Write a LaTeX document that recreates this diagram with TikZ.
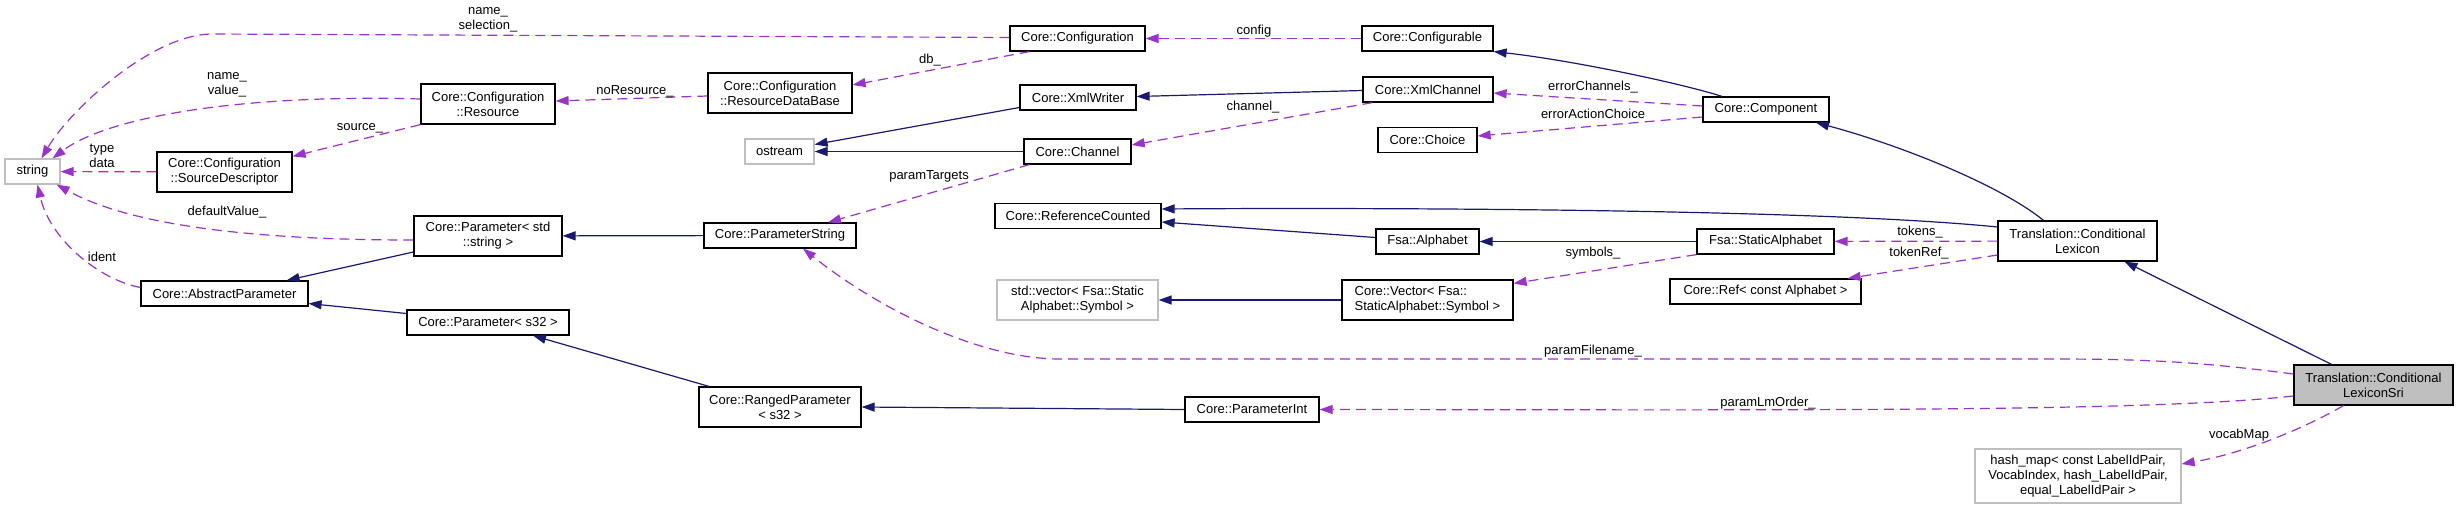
\documentclass[tikz,border=0pt]{standalone}
\usepackage{fontspec}
\setmainfont{Liberation Sans}
\definecolor{inheritBlue}{RGB}{25,25,112}
\definecolor{usageOrchid}{RGB}{154,50,205}
\definecolor{extGray}{RGB}{191,191,191}
\usetikzlibrary{arrows.meta,calc}

\begin{document}
\begin{tikzpicture}[x=1pt,y=-1pt,
    font=\fontsize{13}{15}\selectfont,
    cls/.style={draw=black,line width=1.2pt,inner sep=0pt,align=center,minimum height=25pt},
    ext/.style={cls,draw=extGray},
    two/.style={minimum height=40pt},
    inherit/.style={draw=inheritBlue,line width=1.2pt,-{Triangle[length=13pt,width=9pt]}},
    uses/.style={draw=usageOrchid,line width=1.2pt,dash pattern=on 10pt off 6pt,-{Triangle[length=13pt,width=9pt]}},
    lbl/.style={inner sep=0pt,align=center}]
        \useasboundingbox (0,0) rectangle (2459,509);
        % Column 1: string and configuration parts
        \node[ext,minimum width=55pt] (string) at (32.5,171.5) {string};
        \node[cls,two,minimum width=135pt] (srcDesc) at (224.5,172) {Core::Configuration\\::SourceDescriptor};
        \node[cls,minimum width=167pt] (abstractParam) at (224.5,293.5) {Core::AbstractParameter};
        % Column 2
        \node[cls,two,minimum width=134pt] (resource) at (488,104) {Core::Configuration\\::Resource};
        \node[cls,two,minimum width=148pt] (paramStd) at (488,236) {Core::Parameter< std\\::string >};
        \node[cls,minimum width=162pt] (paramS32) at (488,322.5) {Core::Parameter< s32 >};
        % Column 3
        \node[cls,two,minimum width=144pt] (resourceDB) at (780,93) {Core::Configuration\\::ResourceDataBase};
        \node[ext,minimum width=69pt] (ostream) at (779.5,151.5) {ostream};
        \node[cls,minimum width=152pt] (paramString) at (780,235.5) {Core::ParameterString};
        \node[cls,two,minimum width=162pt] (rangedParam) at (780,407) {Core::RangedParameter\\< s32 >};
        % Column 4
        \node[cls,minimum width=135pt] (configuration) at (1077.5,38.5) {Core::Configuration};
        \node[cls,minimum width=116pt] (xmlWriter) at (1078,97.5) {Core::XmlWriter};
        \node[cls,minimum width=107pt] (channel) at (1077.5,151.5) {Core::Channel};
        \node[cls,minimum width=166pt] (refCounted) at (1078,216) {Core::ReferenceCounted};
        \node[ext,two,minimum width=161pt] (stdVector) at (1077.5,300) {std::vector< Fsa::Static\\Alphabet::Symbol >};
        \node[cls,minimum width=134pt] (paramInt) at (1252,409.5) {Core::ParameterInt};
        % Column 5
        \node[cls,minimum width=131pt] (configurable) at (1427.5,38.5) {Core::Configurable};
        \node[cls,minimum width=130pt] (xmlChannel) at (1428,89.5) {Core::XmlChannel};
        \node[cls,minimum width=99pt] (choice) at (1427.5,140) {Core::Choice};
        \node[cls,minimum width=103pt] (alphabet) at (1427.5,241.5) {Fsa::Alphabet};
        \node[cls,two,minimum width=171pt,align=left] (coreVector) at (1427.5,300) {Core::Vector< Fsa::\\StaticAlphabet::Symbol >};
        % Column 6
        \node[cls,minimum width=126pt] (component) at (1766,109.5) {Core::Component};
        \node[cls,minimum width=137pt] (staticAlphabet) at (1765.5,241.5) {Fsa::StaticAlphabet};
        \node[cls,minimum width=191pt] (coreRef) at (1765.5,291.5) {Core::Ref< const Alphabet >};
        % Lexicon classes
        \node[cls,two,minimum width=159pt] (condLexicon) at (2077.5,241) {Translation::Conditional\\Lexicon};
        \node[cls,two,fill=extGray,minimum width=159pt] (lexiconSri) at (2373.5,385) {Translation::Conditional\\LexiconSri};
        \node[ext,minimum width=206pt,minimum height=54pt] (hashMap) at (2078,476) {hash\_map< const LabelIdPair,\\VocabIndex, hash\_LabelIdPair,\\equal\_LabelIdPair >};
        % Inheritance
        \draw[inherit] ($(component.north)+(-44,0)$) .. controls (1680,83) and (1570,60) .. (configurable.south east);
        \draw[inherit] ($(condLexicon.north)+(-34,0)$) .. controls (2000,185) and (1900,145) .. ($(component.south)+(50,0)$);
        \draw[inherit] ($(lexiconSri.north)+(-42,0)$) -- ($(condLexicon.south)+(47,0)$);
        \draw[inherit] ($(condLexicon.west)+(0,-14)$) .. controls (1800,207) and (1300,208) .. ($(refCounted.east)+(0,-7)$);
        \draw[inherit] ($(alphabet.west)+(0,-4)$) -- ($(refCounted.east)+(0,6)$);
        \draw[inherit] (staticAlphabet) -- (alphabet);
        \draw[inherit] ($(xmlChannel.west)+(0,1)$) -- ($(xmlWriter.east)+(0,-1)$);
        \draw[inherit] ($(xmlWriter.west)+(0,10)$) -- ($(ostream.east)+(0,-7)$);
        \draw[inherit] (channel) -- (ostream);
        \draw[inherit] (coreVector) -- (stdVector);
        \draw[inherit] (paramString) -- (paramStd);
        \draw[inherit] ($(paramStd.west)+(0,16)$) -- ($(abstractParam.north east)+(-22,0)$);
        \draw[inherit] ($(paramS32.west)+(0,-9)$) -- ($(abstractParam.east)+(0,10)$);
        \draw[inherit] ($(rangedParam.north)+(-71,0)$) -- ($(paramS32.south)+(45,0)$);
        \draw[inherit] (paramInt.west) -- (rangedParam.east);
        % Usage
        \draw[uses] ($(configuration.west)+(0,-1)$) -- (210,34) .. controls (150,36) and (70,110) .. ($(string.north)+(9,0)$);
        \draw[uses] ($(resource.west)+(0,-5)$) .. controls (250,94) and (110,115) .. ($(string.north)+(20,0)$);
        \draw[uses] (srcDesc) -- (string);
        \draw[uses] ($(paramStd.west)+(0,4)$) .. controls (250,240) and (130,225) .. ($(string.south east)+(-4,0)$);
        \draw[uses] ($(abstractParam.west)+(0,-6)$) .. controls (100,280) and (50,240) .. ($(string.south)+(5,0)$);
        \draw[uses] ($(resourceDB.west)+(0,3)$) -- ($(resource.east)+(0,-3)$);
        \draw[uses] (resource.south west) -- ($(srcDesc.north east)+(0,5)$);
        \draw[uses] ($(configuration.south west)+(20,0)$) -- ($(resourceDB.east)+(0,-8)$);
        \draw[uses] (configurable) -- (configuration);
        \draw[uses] ($(component.west)+(0,-3.5)$) -- ($(xmlChannel.east)+(0,3.5)$);
        \draw[uses] ($(component.west)+(0,7.5)$) -- ($(choice.east)+(0,-4)$);
        \draw[uses] ($(xmlChannel.south west)+(10,0)$) -- ($(channel.east)+(0,-6.5)$);
        \draw[uses] ($(channel.south west)+(6,0)$) -- ($(paramString.north)+(48,0)$);
        \draw[uses] ($(lexiconSri.west)+(0,-11)$) .. controls (2200,362) and (2150,359) .. (2050,359) -- (1060,359) .. controls (980,359) and (880,310) .. ($(paramString.south)+(23,0)$);
        \draw[uses] ($(lexiconSri.west)+(0,11)$) .. controls (2150,412) and (1800,410) .. (paramInt.east);
        \draw[uses] (condLexicon) -- (staticAlphabet);
        \draw[uses] (staticAlphabet.south west) -- ($(coreVector.north east)+(0,4)$);
        \draw[uses] ($(condLexicon.west)+(0,14)$) -- ($(coreRef.north east)+(-14,0)$);
        \draw[uses] ($(lexiconSri.south)+(-30,0)$) .. controls (2310,425) and (2250,452) .. ($(hashMap.east)+(0,-12)$);
        % Edge labels
        \node[lbl] (lblSelection) at (488,19.5) {name\_\\selection\_};
        \node[lbl] (lblValue) at (227,84.5) {name\_\\value\_};
        \node[lbl] (lblData) at (102,156) {type\\data};
        \node[lbl] (lblDefault) at (227,212) {defaultValue\_};
        \node[lbl] (lblIdent) at (102,257) {ident};
        \node[lbl] (lblNoRes) at (635,91) {noResource\_};
        \node[lbl] (lblSource) at (360,128) {source\_};
        \node[lbl] (lblDb) at (930,60) {db\_};
        \node[lbl] (lblConfig) at (1254,31) {config};
        \node[lbl] (lblErrChan) at (1593,87) {errorChannels\_};
        \node[lbl] (lblErrChoice) at (1593,114) {errorActionChoice};
        \node[lbl] (lblChannel) at (1253,107) {channel\_};
        \node[lbl] (lblTargets) at (929,176) {paramTargets};
        \node[lbl] (lblFilename) at (1593,351) {paramFilename\_};
        \node[lbl] (lblLmOrder) at (1768,403) {paramLmOrder\_};
        \node[lbl] (lblTokens) at (1920,232) {tokens\_};
        \node[lbl] (lblSymbols) at (1593,253) {symbols\_};
        \node[lbl] (lblTokenRef) at (1919,253) {tokenRef\_};
        \node[lbl] (lblVocab) at (2239,435) {vocabMap};
      \end{tikzpicture}
\end{document}
